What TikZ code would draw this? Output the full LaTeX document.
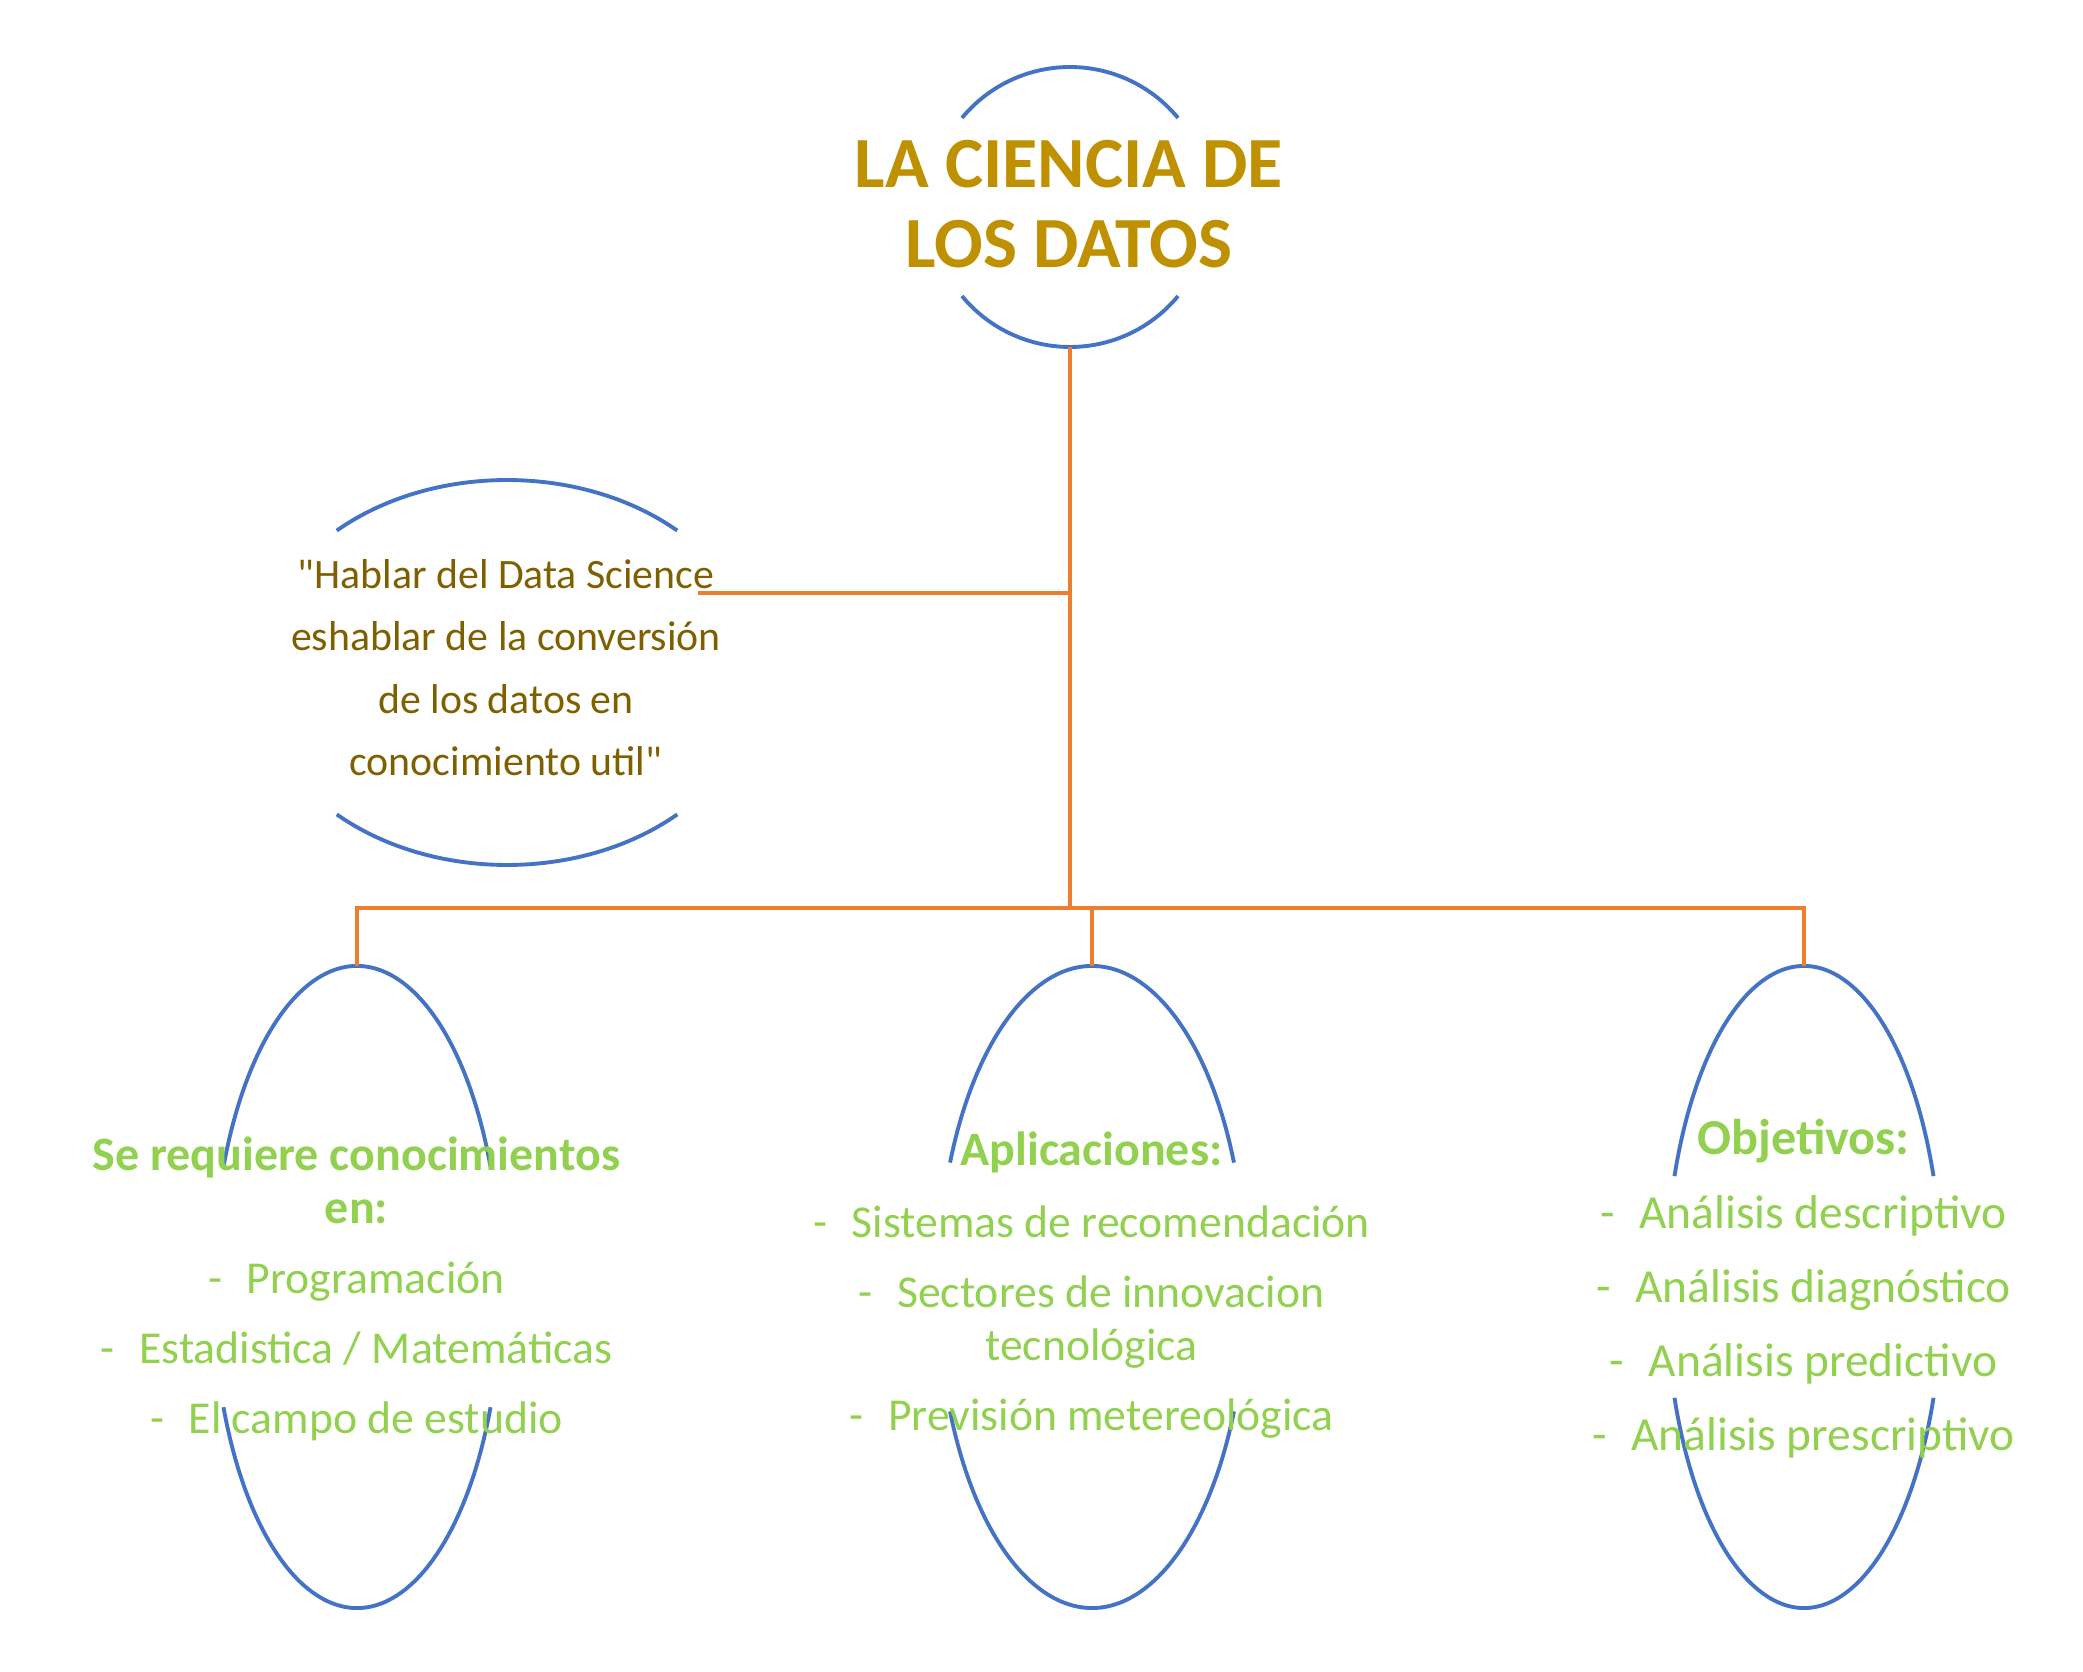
\documentclass[tikz,border=0pt]{standalone}
\usepackage{fontspec}
\setmainfont{Carlito}
\usepackage{tikz}
\usetikzlibrary{shapes.geometric}
\definecolor{azul}{HTML}{4472C4}
\definecolor{naranja}{HTML}{ED7D31}
\definecolor{oro}{HTML}{BF9000}
\definecolor{cafe}{HTML}{7F6000}
\definecolor{verde}{HTML}{92D050}
\newcommand{\guion}{-\hspace{7pt}}
\newcommand{\titular}[2]{{\fontsize{#1}{15}\selectfont\bfseries #2}}
\newcommand{\ovalo}[4]{%
	\draw[borde] ([shift={(#1.center)}]#2:#3 and #4) arc[start angle=#2, end angle=180-#2, x radius=#3, y radius=#4];
	\draw[borde] ([shift={(#1.center)}]180+#2:#3 and #4) arc[start angle=180+#2, end angle=360-#2, x radius=#3, y radius=#4];
}

\begin{document}
\begin{tikzpicture}[
	forma/.style={draw=none, inner sep=0pt, outer sep=0pt},
	borde/.style={azul, line width=1.1pt},
	conector/.style={naranja, line width=1.4pt},
	titulo/.style={oro, font=\fontsize{20.5}{23}\selectfont\bfseries, align=center, inner sep=0pt},
	frase/.style={cafe, font=\fontsize{11.9}{17.8}\selectfont, align=center, inner sep=0pt},
	lista/.style={verde, font=\fontsize{13}{15}\selectfont, align=center, inner sep=0pt}]
	\useasboundingbox (0,0) rectangle (20.83,-16.72);

	\node[forma, circle, minimum size=2.8cm] (tema) at (10.70,-2.07) {};
	\node[forma, ellipse, minimum width=5.04cm, minimum height=3.85cm] (cita) at (5.07,-6.725) {};
	\node[forma, ellipse, minimum width=2.88cm, minimum height=6.42cm] (prog) at (3.57,-12.87) {};
	\node[forma, ellipse, minimum width=3.08cm, minimum height=6.42cm] (apl) at (10.92,-12.87) {};
	\node[forma, ellipse, minimum width=2.76cm, minimum height=6.42cm] (obj) at (18.04,-12.87) {};

	\ovalo{tema}{39.5}{1.40}{1.40}
	\ovalo{cita}{47.5}{2.52}{1.925}
	\ovalo{prog}{22}{1.44}{3.21}
	\ovalo{apl}{22.8}{1.54}{3.21}
	\ovalo{obj}{20.2}{1.38}{3.21}

	\node[titulo, anchor=base] (tema-txt) at (10.69,-2.68) {LA CIENCIA DE\\LOS DATOS};
	\node[frase, anchor=base] (cita-txt) at (5.06,-7.76) {\textquotedbl Hablar del Data Science\\eshablar de la conversión\\de los datos en\\conocimiento util\textquotedbl};
	\node[lista, anchor=base] (prog-txt) at (3.565,-14.33) {\titular{13.65}{Se requiere conocimientos}\\\titular{13.65}{en:}\\[4.9pt]
		\guion Programación\\[4.9pt]\guion Estadistica / Matemáticas\\[4.9pt]\guion El campo de estudio};
	\node[lista, anchor=base] (apl-txt) at (10.915,-14.305) {\titular{13.65}{Aplicaciones:}\\[5.5pt]
		\guion Sistemas de recomendación\\[4.9pt]\guion Sectores de innovacion\\tecnológica\\[4.9pt]\guion Previsión metereológica};
	\node[lista, anchor=base, font=\fontsize{13.5}{15}\selectfont] (obj-txt) at (18.035,-14.50) {\titular{14.3}{Objetivos:}\\[6pt]
		\guion Análisis descriptivo\\[6pt]\guion Análisis diagnóstico\\[6pt]\guion Análisis predictivo\\[6pt]\guion Análisis prescriptivo};

	\coordinate (barra) at (0,-9.08);
	\coordinate (cita-fin) at (6.98,-5.93);
	\draw[conector] (tema.south) -- (tema.south |- barra);
	\draw[conector] (prog.north) -- (prog.north |- barra) -- (obj.north |- barra) -- (obj.north);
	\draw[conector] (apl.north) -- (apl.north |- barra);
	\draw[conector] (cita-fin) -- (cita-fin -| tema.south);
\end{tikzpicture}
\end{document}
